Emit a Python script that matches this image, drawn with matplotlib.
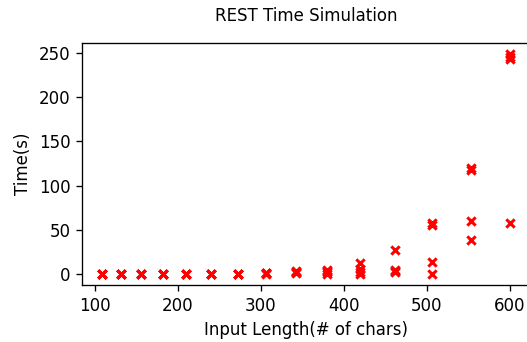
import numpy as np
import matplotlib.pyplot as plt

# input lengths (# of chars)
lengths = [109, 131, 155, 182, 210, 240, 272, 306, 342, 380, 420, 462, 507, 553, 600]

# measured times (s) for each run
run_a = [0, 0, 0, 0, 0, 0, 0, 0.5, 1, 0, 0, 2, 0, 38, 58]
run_b = [0, 0, 0, 0, 0, 0, 0, 1, 2, 2, 6, 3, 14, 60, 243]
run_c = [0, 0, 0, 0, 0, 0, 0, 1.5, 3, 5, 12, 5, 56, 118, 246]
run_d = [0, 0, 0, 0, 0, 0, 0, 1, 2, 3, 2, 27, 58, 120, 249]

fig = plt.figure(figsize=(527 / 120, 342 / 120), dpi=120)
ax = fig.add_axes([0.1556, 0.1667, 0.85, 0.7076])

for run in [run_a, run_b, run_c, run_d]:
    ax.scatter(lengths, run, marker='x', c='red', s=25, linewidths=1.8)

ax.set_title('REST Time Simulation', fontsize=10, pad=13)
ax.set_xlabel('Input Length(# of chars)')
ax.set_ylabel('Time(s)')
ax.set_xticks([100, 200, 300, 400, 500, 600])
ax.set_yticks([0, 50, 100, 150, 200, 250])

fig.savefig('out.png', dpi=120)
